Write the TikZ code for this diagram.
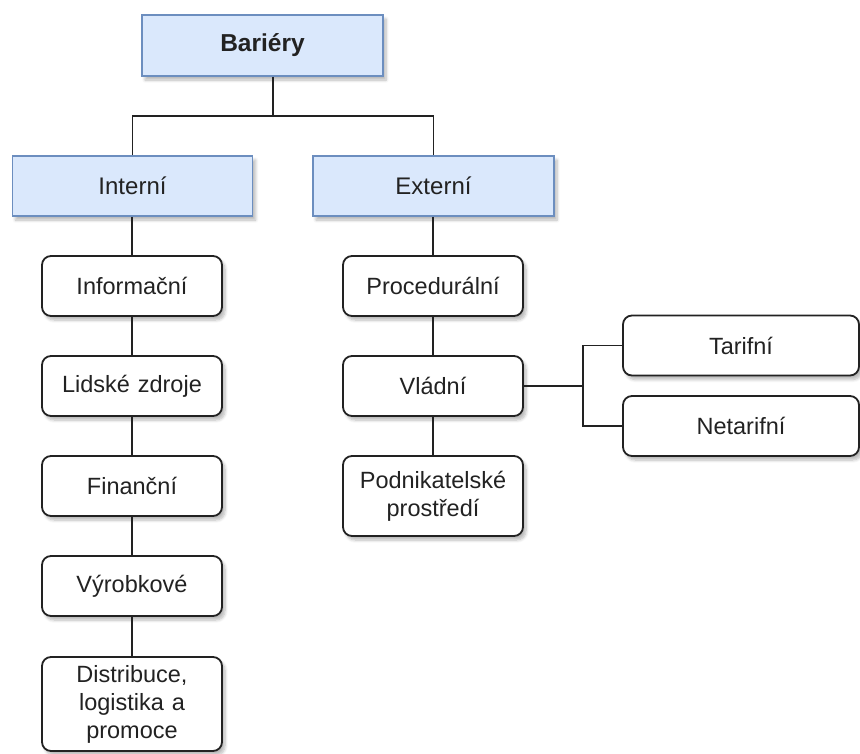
\documentclass[tikz,border=0pt]{standalone}
\usepackage{fontspec}
\setmainfont{Liberation Sans}
\usetikzlibrary{shadows.blur}

\definecolor{hdrfill}{HTML}{DAE8FC}
\definecolor{hdrline}{HTML}{6C8EBF}
\definecolor{ink}{HTML}{222222}

\tikzset{
  boxshadow/.style={blur shadow={shadow xshift=3pt, shadow yshift=-4pt,
      shadow opacity=28, shadow blur steps=6, shadow blur radius=3pt}},
  header/.style={draw=hdrline, fill=hdrfill, line width=1.6pt, boxshadow,
      minimum width=241pt, minimum height=60pt, inner sep=0pt,
      align=center, text=ink, font=\fontsize{24}{28}\selectfont},
  item/.style={draw=ink, fill=white, line width=1.8pt, rounded corners=9pt,
      boxshadow, minimum width=180pt, minimum height=60pt, inner sep=0pt,
      text width=170pt, align=center, text=ink,
      font=\fontsize{23.5}{28}\selectfont},
  wide/.style={item, minimum width=236pt, text width=220pt},
  link/.style={draw=ink, line width=1.8pt},
}

\begin{document}
\begin{tikzpicture}[x=1pt, y=-1pt]
  \useasboundingbox (0,0) rectangle (860,753);

  % root and the two branches
  \node[header, minimum height=61pt, font=\fontsize{24.5}{28}\selectfont\bfseries]
      (bar) at (262.5,45.5) {Bariéry};
  \node[header, minimum width=240pt] (int) at (132.5,186) {Interní};
  \node[header] (ext) at (433.5,186) {Externí};

  % internal barriers
  \node[item] (inf) at (132,286) {Informační};
  \node[item] (lid) at (132,386) {Lidské zdroje};
  \node[item] (fin) at (132,486) {Finanční};
  \node[item] (vyr) at (132,586) {Výrobkové};
  \node[item, minimum height=94pt] (dis) at (132,704)
      {Distribuce,\\logistika a\\promoce};

  % external barriers
  \node[item] (pro) at (433,286) {Procedurální};
  \node[item] (vla) at (433,386) {Vládní};
  \node[item, minimum height=80pt] (pod) at (433,496)
      {Podnikatelské\\prostředí};

  % government barriers split further
  \node[wide] (tar) at (741,345.5) {Tarifní};
  \node[wide] (net) at (741,426) {Netarifní};

  % tree connectors
  \coordinate (j) at (273,116);
  \draw[link] (bar.south -| j) -- (j);
  \draw[link] (int.north) |- (j) -| (ext.north);

  \draw[link] (int.south -| inf.north) -- (inf.north);
  \draw[link] (inf) -- (lid);
  \draw[link] (lid) -- (fin);
  \draw[link] (fin) -- (vyr);
  \draw[link] (vyr) -- (dis);

  \draw[link] (ext.south -| pro.north) -- (pro.north);
  \draw[link] (pro) -- (vla);
  \draw[link] (vla) -- (pod);

  \coordinate (k) at (583,386);
  \draw[link] (vla.east) -- (k);
  \draw[link] (tar.west) -| (k) |- (net.west);
\end{tikzpicture}
\end{document}
